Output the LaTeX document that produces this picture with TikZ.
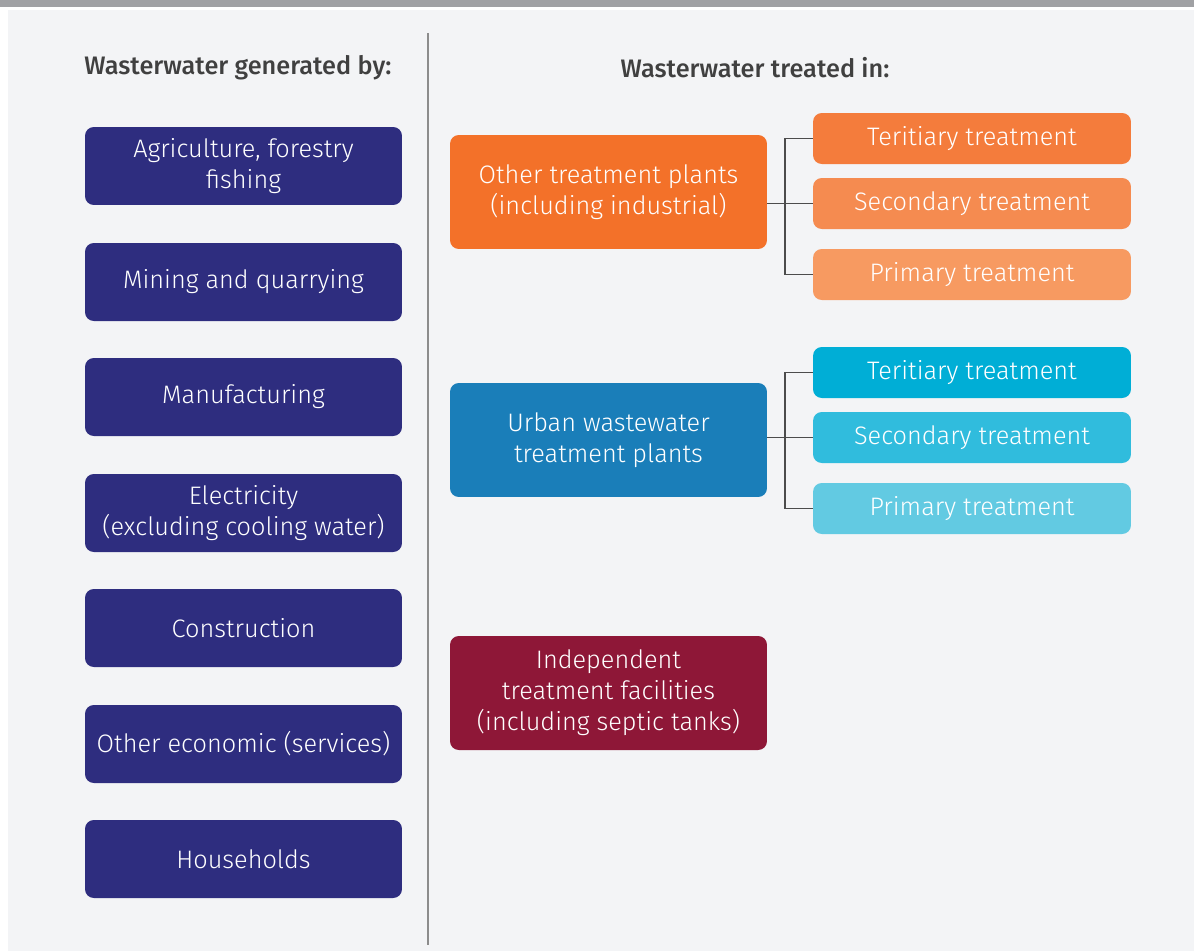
\documentclass[tikz,border=0pt]{standalone}
\usepackage{fontspec}
\setmainfont{Fira Sans Light}[BoldFont={Fira Sans Medium}]
\usepackage{tikz}
\usetikzlibrary{positioning, calc}
\definecolor{pagebg}{HTML}{F3F4F6}
\definecolor{topbar}{HTML}{A0A1A4}
\definecolor{headtext}{HTML}{404040}
\definecolor{sourceblue}{HTML}{2E2D7F}
\definecolor{otherorange}{HTML}{F37129}
\definecolor{oterorange}{HTML}{F47C3C}
\definecolor{osecorange}{HTML}{F58B50}
\definecolor{opriorange}{HTML}{F79A61}
\definecolor{urbanblue}{HTML}{1A7EB9}
\definecolor{uterblue}{HTML}{00AED6}
\definecolor{usecblue}{HTML}{30BCDD}
\definecolor{upriblue}{HTML}{62CAE2}
\definecolor{indepred}{HTML}{8E1737}
\tikzset{
  heading/.style={font=\fontsize{14.4}{17}\selectfont\bfseries, text=headtext, anchor=center},
  source/.style={rectangle, rounded corners=5pt, fill=sourceblue, text=white, minimum width=6.34cm, minimum height=1.56cm, align=center, font=\fontsize{14.4}{17.6}\selectfont, inner sep=1pt},
  plant/.style={rectangle, rounded corners=5pt, text=white, minimum width=6.34cm, minimum height=2.28cm, align=center, font=\fontsize{14.4}{17.6}\selectfont, inner sep=1pt},
  stage/.style={rectangle, rounded corners=5pt, text=white, minimum width=6.36cm, minimum height=1.02cm, align=center, font=\fontsize{14.4}{17.6}\selectfont, inner sep=1pt},
  branch/.style={draw=black!70, line width=0.8pt},
}
\begin{document}
\begin{tikzpicture}[x=0.02cm, y=-0.02cm]
% page and background
\fill[white] (0,0) rectangle (1194,951);
\useasboundingbox (0,0) rectangle (1194,951);
\fill[topbar] (0,0) rectangle (1194,7);
\fill[pagebg] (8,10) rectangle (1194,951);
\draw[black!45, line width=0.6pt] (428,33) -- (428,945);

% headings
\node[heading] (genhead) at (238,68) {Wasterwater generated by:};
\node[heading] (treathead) at (755,68) {Wasterwater treated in:};

% sources of wastewater
\node[source] (agri) at (243.5,166) {Agriculture, forestry\\fishing};
\node[source] (mining) at (243.5,282) {Mining and quarrying};
\node[source] (manuf) at (243.5,397) {Manufacturing};
\node[source] (elec) at (243.5,513) {Electricity\\(excluding cooling water)};
\node[source] (constr) at (243.5,628) {Construction};
\node[source] (services) at (243.5,744) {Other economic (services)};
\node[source] (house) at (243.5,859) {Households};

% treatment plants
\node[plant, fill=otherorange] (otp) at (608.5,192) {Other treatment plants\\(including industrial)};
\node[plant, fill=urbanblue] (uwtp) at (608.5,440) {Urban wastewater\\treatment plants};
\node[plant, fill=indepred] (itf) at (608.5,693) {Independent\\treatment facilities\\(including septic tanks)};

% treatment stages
\node[stage, fill=oterorange] (oter) at (972,138.5) {Teritiary treatment};
\node[stage, fill=osecorange] (osec) at (972,203.5) {Secondary treatment};
\node[stage, fill=opriorange] (opri) at (972,274.5) {Primary treatment};
\node[stage, fill=uterblue] (uter) at (972,372.5) {Teritiary treatment};
\node[stage, fill=usecblue] (usec) at (972,437.5) {Secondary treatment};
\node[stage, fill=upriblue] (upri) at (972,508.5) {Primary treatment};

% branches
\coordinate (ojoin) at (785,203.5);
\coordinate (ujoin) at (785,437.5);
\draw[branch] (osec.west) -- (osec.west -| otp.east);
\draw[branch] (oter.west) -| (ojoin) |- (opri.west);
\draw[branch] (usec.west) -- (usec.west -| uwtp.east);
\draw[branch] (uter.west) -| (ujoin) |- (upri.west);
\end{tikzpicture}
\end{document}
